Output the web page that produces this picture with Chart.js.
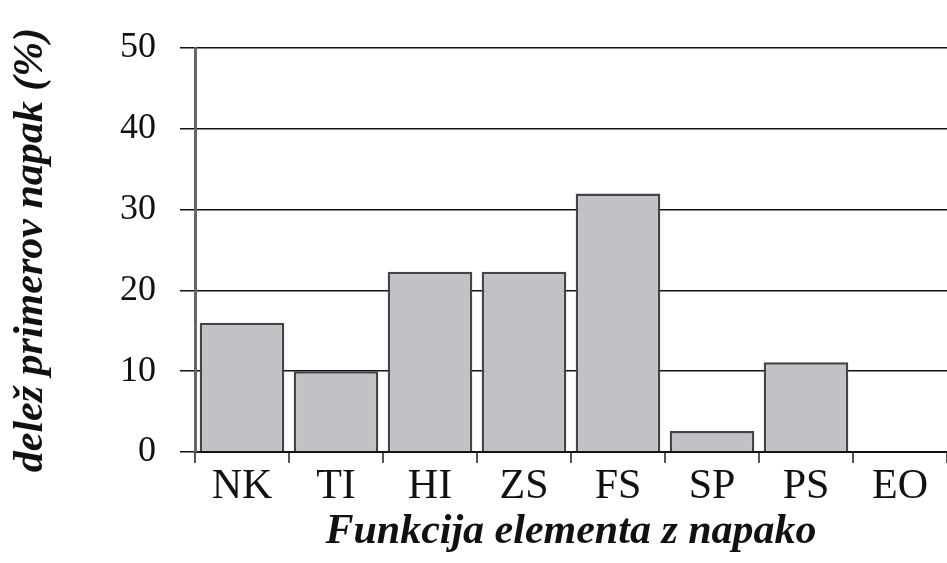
<!DOCTYPE html>
<html>
<head>
<meta charset="utf-8">
<script src="https://cdn.jsdelivr.net/npm/chart.js@4"></script>
<style>
  html, body { margin: 0; padding: 0; background: #fff; }
  #wrap { width: 947px; height: 563px; }
</style>
</head>
<body>
<div id="wrap"><canvas id="grafikas"></canvas></div>
<script>
var kategorije = ["NK", "TI", "HI", "ZS", "FS", "SP", "PS", "EO"];
var delez = [16, 10, 22.3, 22.3, 32, 2.6, 11.1, 0];
var yTicks = [0, 10, 20, 30, 40, 50];

var serif = "'Liberation Serif', 'DejaVu Serif', serif";

var ctx = document.getElementById('grafikas').getContext('2d');
var grafikon = new Chart(ctx, {
    type: 'bar',
    data: {
        labels: kategorije,
        datasets: [{
            data: delez,
            backgroundColor: '#c3c0c6',
            borderColor: '#444',
            borderWidth: 2.5,
            barPercentage: 0.9,
            categoryPercentage: 1
        }]
    },
    options: {
        responsive: true,
        maintainAspectRatio: false,
        animation: false,
        layout: { padding: { top: 48, right: 0, left: 0, bottom: 0 } },
        plugins: {
            legend: { display: false },
            tooltip: { enabled: false }
        },
        scales: {
            x: {
                offset: true,
                grid: {
                    offset: true,
                    drawOnChartArea: false,
                    drawTicks: true,
                    tickLength: 11,
                    color: '#555',
                    lineWidth: 2
                },
                border: { color: '#111', width: 2 },
                ticks: {
                    color: '#111',
                    font: { family: serif, size: 42, lineHeight: 1 },
                    padding: 3
                },
                title: {
                    display: true,
                    text: 'Funkcija elementa z napako',
                    color: '#111',
                    font: { family: serif, size: 42, weight: 'bold', style: 'italic' },
                    padding: { top: 0, bottom: 6 }
                },
                afterFit: function(scale) { scale.height = 111; }
            },
            y: {
                min: 0,
                max: 50,
                afterBuildTicks: function(scale) {
                    scale.ticks = yTicks.map(function(v) { return { value: v }; });
                },
                grid: {
                    color: '#111',
                    lineWidth: 1.5,
                    tickLength: 15,
                    tickColor: '#111'
                },
                border: { color: '#666', width: 3 },
                ticks: {
                    color: '#111',
                    font: { family: serif, size: 36 },
                    padding: 24
                },
                title: {
                    display: true,
                    text: 'delež primerov napak (%)',
                    color: '#111',
                    font: { family: serif, size: 42, weight: 'bold', style: 'italic' },
                    padding: { top: 6, bottom: 0 }
                },
                afterFit: function(scale) { scale.width = 195; }
            }
        }
    }
});
</script>
</body>
</html>
